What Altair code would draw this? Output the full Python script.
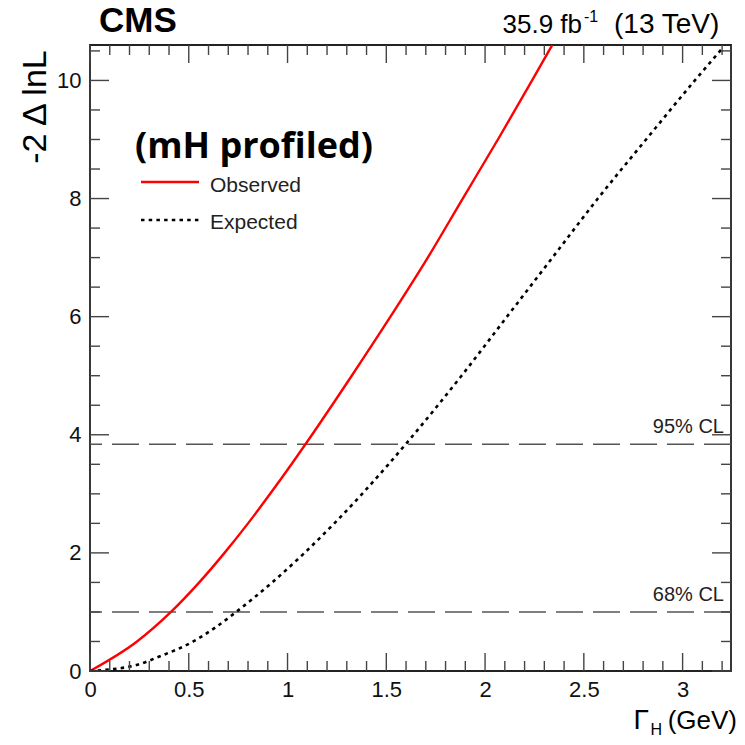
import altair as alt
import pandas as pd

# ---- data ----
obs_x = [0.0, 0.238, 0.41, 0.553, 0.681, 0.80, 0.912, 1.02, 1.095, 1.325, 1.521, 1.71, 1.887, 2.065, 2.238, 2.34]
obs_y = [0.0, 0.5, 1.0, 1.5, 2.0, 2.5, 3.0, 3.5, 3.86, 5.0, 6.0, 7.0, 8.0, 9.0, 10.0, 10.6]

exp_x = [0.0, 0.234, 0.355, 0.523, 0.64, 0.74, 0.922, 1.086, 1.237, 1.378, 1.511, 1.603, 1.881, 2.111,
         2.341, 2.571, 2.815, 3.062, 3.195]
exp_y = [0.0, 0.1, 0.25, 0.5, 0.75, 1.0, 1.5, 2.0, 2.5, 3.0, 3.5, 3.86, 5.0, 6.0,
         7.0, 8.0, 9.0, 10.0, 10.52]

cl_values = [1.0, 3.84]
cl_labels = ["68% CL", "95% CL"]

x_major = [0.0, 0.5, 1.0, 1.5, 2.0, 2.5, 3.0]
x_minor = [0.1, 0.2, 0.3, 0.4, 0.6, 0.7, 0.8, 0.9, 1.1, 1.2, 1.3, 1.4, 1.6, 1.7, 1.8, 1.9,
           2.1, 2.2, 2.3, 2.4, 2.6, 2.7, 2.8, 2.9, 3.1, 3.2]
y_major = [0, 2, 4, 6, 8, 10]
y_minor = [0.5, 1.0, 1.5, 2.5, 3.0, 3.5, 4.5, 5.0, 5.5, 6.5, 7.0, 7.5, 8.5, 9.0, 9.5, 10.5]

X_DOMAIN = [0, 3.245]
Y_DOMAIN = [0, 10.6]

W, H = 641, 626
FONT = "Liberation Sans"

obs_df = pd.DataFrame({"x": obs_x, "y": obs_y})
exp_df = pd.DataFrame({"x": exp_x, "y": exp_y})
cl_df = pd.DataFrame({"y": cl_values, "label": cl_labels})

xs = alt.Scale(domain=X_DOMAIN, nice=False, zero=False)
ys = alt.Scale(domain=Y_DOMAIN, nice=False, zero=False)
xaxis = alt.Axis(values=x_major, format="~g", ticks=False, domain=False, grid=False, title=None,
                 labelFontSize=22, labelFont=FONT, labelColor="#111", labelPadding=8,
                 labelFlush=False, labelOverlap=False)
yaxis = alt.Axis(values=y_major, format="d", ticks=False, domain=False, grid=False, title=None,
                 labelFontSize=22, labelFont=FONT, labelColor="#111", labelPadding=9,
                 labelFlush=False, labelOverlap=False)


def X(f="x"):
    return alt.X(f, type="quantitative", scale=xs, axis=xaxis)


def Y(f="y"):
    return alt.Y(f, type="quantitative", scale=ys, axis=yaxis)


one = pd.DataFrame({"t": [""]})

# CL lines
cl_rules = alt.Chart(cl_df).mark_rule(color="#555555", strokeWidth=1.5, strokeDash=[27, 10]).encode(y=Y())
cl_text = alt.Chart(cl_df).mark_text(align="right", baseline="alphabetic", dy=-11, fontSize=20,
                                     font=FONT, color="#222").encode(
    y=Y(), x=alt.value(634), text="label:N")

# curves
obs_line = alt.Chart(obs_df).mark_line(color="#ff0000", strokeWidth=2.4, clip=True,
                                       interpolate="monotone").encode(x=X(), y=Y())
exp_line = alt.Chart(exp_df).mark_line(color="#000000", strokeWidth=2.6, strokeDash=[3.5, 4.2],
                                       clip=True, interpolate="monotone").encode(x=X(), y=Y())

# inward ticks on all four sides
TC, TW = "#444444", 1.4
xmaj_df = pd.DataFrame({"x": x_major})
xmin_df = pd.DataFrame({"x": x_minor})
ymaj_df = pd.DataFrame({"y": y_major})
ymin_df = pd.DataFrame({"y": y_minor})
ticks = [
    alt.Chart(xmaj_df).mark_rule(color=TC, strokeWidth=TW).encode(x=X(), y=alt.value(H), y2=alt.value(H - 18)),
    alt.Chart(xmaj_df).mark_rule(color=TC, strokeWidth=TW).encode(x=X(), y=alt.value(0), y2=alt.value(18)),
    alt.Chart(xmin_df).mark_rule(color=TC, strokeWidth=TW).encode(x=X(), y=alt.value(H), y2=alt.value(H - 10)),
    alt.Chart(xmin_df).mark_rule(color=TC, strokeWidth=TW).encode(x=X(), y=alt.value(0), y2=alt.value(10)),
    alt.Chart(ymaj_df).mark_rule(color=TC, strokeWidth=TW).encode(y=Y(), x=alt.value(0), x2=alt.value(19)),
    alt.Chart(ymaj_df).mark_rule(color=TC, strokeWidth=TW).encode(y=Y(), x=alt.value(W), x2=alt.value(W - 19)),
    alt.Chart(ymin_df).mark_rule(color=TC, strokeWidth=TW).encode(y=Y(), x=alt.value(0), x2=alt.value(10)),
    alt.Chart(ymin_df).mark_rule(color=TC, strokeWidth=TW).encode(y=Y(), x=alt.value(W), x2=alt.value(W - 10)),
]


def label(text, x, y, size, weight="normal", align="left", baseline="alphabetic", font=FONT, angle=0,
          color="#000"):
    return alt.Chart(one).mark_text(text=text, align=align, baseline=baseline, fontSize=size,
                                    fontWeight=weight, font=font, angle=angle, color=color).encode(
        x=alt.value(x), y=alt.value(y))


annotations = [
    label("CMS", 9, -13, 35, weight="bold"),
    label("35.9 fb", 492, -12, 26, align="right"),
    label("-1", 494, -23, 16),
    label("(13 TeV)", 524, -12, 28),
    label("(mH profiled)", 45, 113, 36, weight="bold", font="Open Sans"),
    label("Observed", 120, 147, 21, color="#222"),
    label("Expected", 120, 184, 21, color="#222"),
    label("-2 \u0394 lnL", -44, 62, 34, align="center", angle=270),
    label("(GeV)", 647, 684, 26, align="right"),
    label("H", 572, 690, 16, align="right"),
    label("\u0393", 559, 684, 28, align="right"),
]

leg_lines = [
    alt.Chart(one).mark_rule(color="#ff0000", strokeWidth=2.4).encode(
        x=alt.value(51), x2=alt.value(109), y=alt.value(137)),
    alt.Chart(one).mark_rule(color="#000000", strokeWidth=2.4, strokeDash=[3.5, 4.2]).encode(
        x=alt.value(51), x2=alt.value(109), y=alt.value(175)),
]

chart = alt.layer(cl_rules, obs_line, exp_line, cl_text, *ticks, *leg_lines, *annotations).properties(
    width=W, height=H,
    autosize=alt.AutoSizeParams(type="none"),
    padding={"left": 90, "top": 45, "right": 14, "bottom": 74},
    background="white",
).configure_view(stroke="#222222", strokeWidth=1.8)

chart.save("out.html", embed_options={"renderer": "svg", "actions": False})
